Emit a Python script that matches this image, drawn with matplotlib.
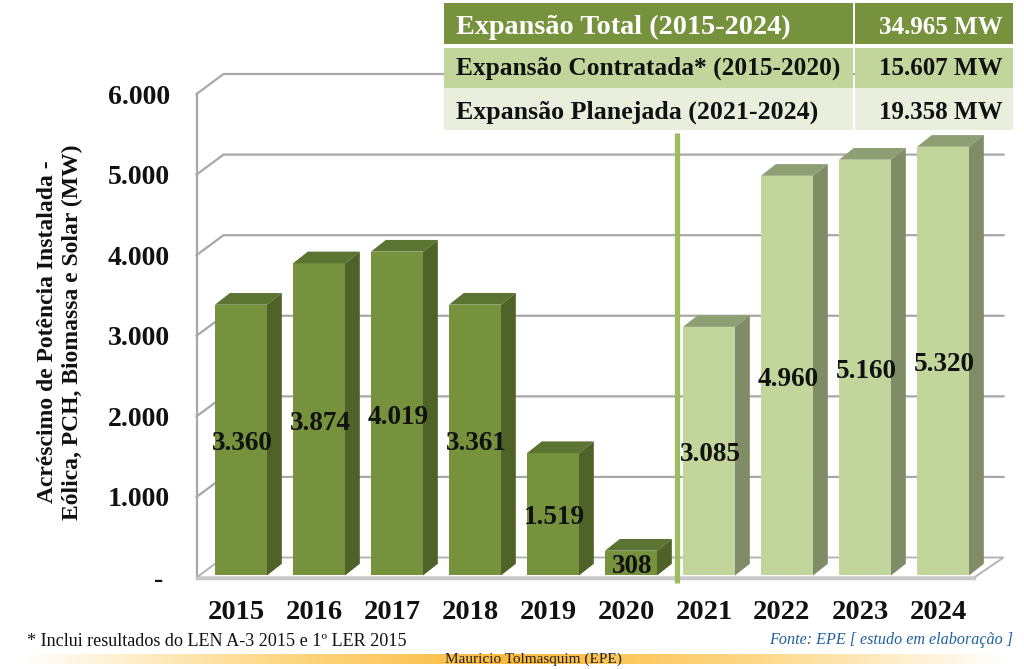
import numpy as np
import matplotlib
matplotlib.use('Agg')
import matplotlib.pyplot as plt
from matplotlib.patches import Polygon, Rectangle
from matplotlib.colors import LinearSegmentedColormap

plt.rcParams['font.family'] = ['Liberation Serif', 'DejaVu Serif']

# data
years = ['2015', '2016', '2017', '2018', '2019', '2020', '2021', '2022', '2023', '2024']
values = [3360, 3874, 4019, 3361, 1519, 308, 3085, 4960, 5160, 5320]
value_labels = ['3.360', '3.874', '4.019', '3.361', '1.519', '308', '3.085', '4.960', '5.160', '5.320']
n_contracted = 6
y_ticks = [0, 1000, 2000, 3000, 4000, 5000, 6000]
y_tick_labels = ['- ', '1.000', '2.000', '3.000', '4.000', '5.000', '6.000']
table_names = ['Expansão Total (2015-2024)', 'Expansão Contratada* (2015-2020)', 'Expansão Planejada (2021-2024)']
table_values = ['34.965 MW', '15.607 MW', '19.358 MW']

W, H = 1024, 669
fig = plt.figure(figsize=(W / 100, H / 100), dpi=100, facecolor='white')
ax = fig.add_axes([202 / W, (H - 577.5) / H, 780 / W, 483.5 / H])
ax.set_xlim(-0.5, 9.5)
ax.set_ylim(0, 6000)
for s in ax.spines.values():
    s.set_visible(False)

grid_c = '#a8a8a8'
wall_dx, wall_dy = 0.346, 248   # depth of the back wall, in data units
x0, x1 = -0.57, 9.40

# walls and gridlines
for v in y_ticks[1:]:
    ax.plot([x0, x0 + wall_dx, x1 + wall_dx + 0.03], [v, v + wall_dy, v + wall_dy],
            color=grid_c, lw=1.6, clip_on=False, zorder=1)
ax.plot([x0, x0], [0, 6000], color=grid_c, lw=1.6, clip_on=False, zorder=1)
ax.add_patch(Polygon([(x0, 0), (x0 + wall_dx, wall_dy), (x1 + wall_dx + 0.03, wall_dy), (x1, 0)],
                     closed=True, facecolor='white', edgecolor='#b4b4b4', lw=1.4,
                     clip_on=False, zorder=1))
ax.plot([x0, x1], [-8, -8], color='#c8c8c8', lw=2.5, clip_on=False, zorder=1)

# divider between contracted and planned
ax.plot([5.59, 5.59], [-70, 5520], color='#9dbb61', lw=3.8, clip_on=False, zorder=2,
        solid_capstyle='butt')

# 3D bars
bar_w = 52 / 78
dx, dy = 0.19, 145
base = 25
for i, v in enumerate(values):
    if i < n_contracted:
        front, top, side = '#76923c', '#5b7431', '#4f6228'
    else:
        front, top, side = '#c2d69b', '#8f9f74', '#7f8c66'
    l, r = i - bar_w / 2, i + bar_w / 2
    ax.bar(i, v, width=bar_w, bottom=base, color=front, zorder=3, clip_on=False)
    t = base + v
    ax.add_patch(Polygon([(l, t), (l + dx, t + dy), (r + dx, t + dy), (r, t)],
                         closed=True, facecolor=top, edgecolor='none', zorder=3, clip_on=False))
    ax.add_patch(Polygon([(r, base), (r + dx, base + dy), (r + dx, t + dy), (r, t)],
                         closed=True, facecolor=side, edgecolor='none', zorder=3, clip_on=False))
    ax.text(i + 0.02, base + v / 2 - 45, value_labels[i], ha='center', va='center',
            fontsize=19.5, fontweight='bold', color='#111111', zorder=4)

# axis labels
ax.set_xticks(np.arange(10) - 0.065)
ax.set_xticklabels(years, fontsize=20.5, fontweight='bold', color='#111111')
ax.set_yticks(y_ticks)
ax.set_yticklabels(y_tick_labels, fontsize=20, fontweight='bold', color='#111111')
ax.tick_params(axis='x', length=0, pad=16)
ax.tick_params(axis='y', length=0, pad=23)
ax.set_ylabel('Acréscimo de Potência Instalada -\nEólica, PCH, Biomassa e Solar (MW)',
              fontsize=17, fontweight='bold', color='#111111', linespacing=1.25)
ax.yaxis.set_label_coords((83 - 202) / 780, (577.5 - 332) / 483.5)


def px(x, y):
    return x / W, 1 - y / H


# summary table
row_tops = [3, 48, 88]
row_bottoms = [44, 88, 130]
row_text_y = [24.5, 66, 110]
row_colors = ['#76923c', '#c2d69b', '#e9eedd']
row_text = ['white', '#111111', '#111111']
row_sizes = [20.3, 18.3, 18.6]
for name, val, top, bottom, ty, c, tc, fs in zip(table_names, table_values, row_tops, row_bottoms,
                                                 row_text_y, row_colors, row_text, row_sizes):
    for xa, xb in [(444, 853), (855, 1013)]:
        fig.add_artist(Rectangle(px(xa, bottom), (xb - xa) / W, (bottom - top) / H,
                                 transform=fig.transFigure, facecolor=c, edgecolor='none', zorder=5))
    xt, yt = px(456, ty)
    fig.text(xt, yt, name, ha='left', va='center_baseline', fontsize=fs, fontweight='bold', color=tc, zorder=6)
    xt, yt = px(1003, ty)
    fig.text(xt, yt, val, ha='right', va='center_baseline', fontsize=18, fontweight='bold', color=tc, zorder=6)

# footer band
cmap = LinearSegmentedColormap.from_list('band', ['#ffffff', '#fdd98a', '#fbb93a', '#fdd98a', '#ffffff'])
band = fig.add_axes([20 / W, (H - 664) / H, 990 / W, 10 / H])
band.imshow(np.linspace(0, 1, 256).reshape(1, -1), aspect='auto', cmap=cmap)
band.set_axis_off()

xt, yt = px(533, 659)
fig.text(xt, yt, 'Mauricio Tolmasquim (EPE)', ha='center', va='center', fontsize=11, color='#222222', zorder=6)
xt, yt = px(27, 641)
fig.text(xt, yt, '* Inclui resultados do LEN A-3 2015 e 1º LER 2015', ha='left', va='center',
         fontsize=13.1, color='#111111')
xt, yt = px(1013, 640)
fig.text(xt, yt, 'Fonte: EPE [ estudo em elaboração ]', ha='right', va='center',
         fontsize=11.6, style='italic', color='#1f5f9f')

fig.savefig('out.png', dpi=100)
